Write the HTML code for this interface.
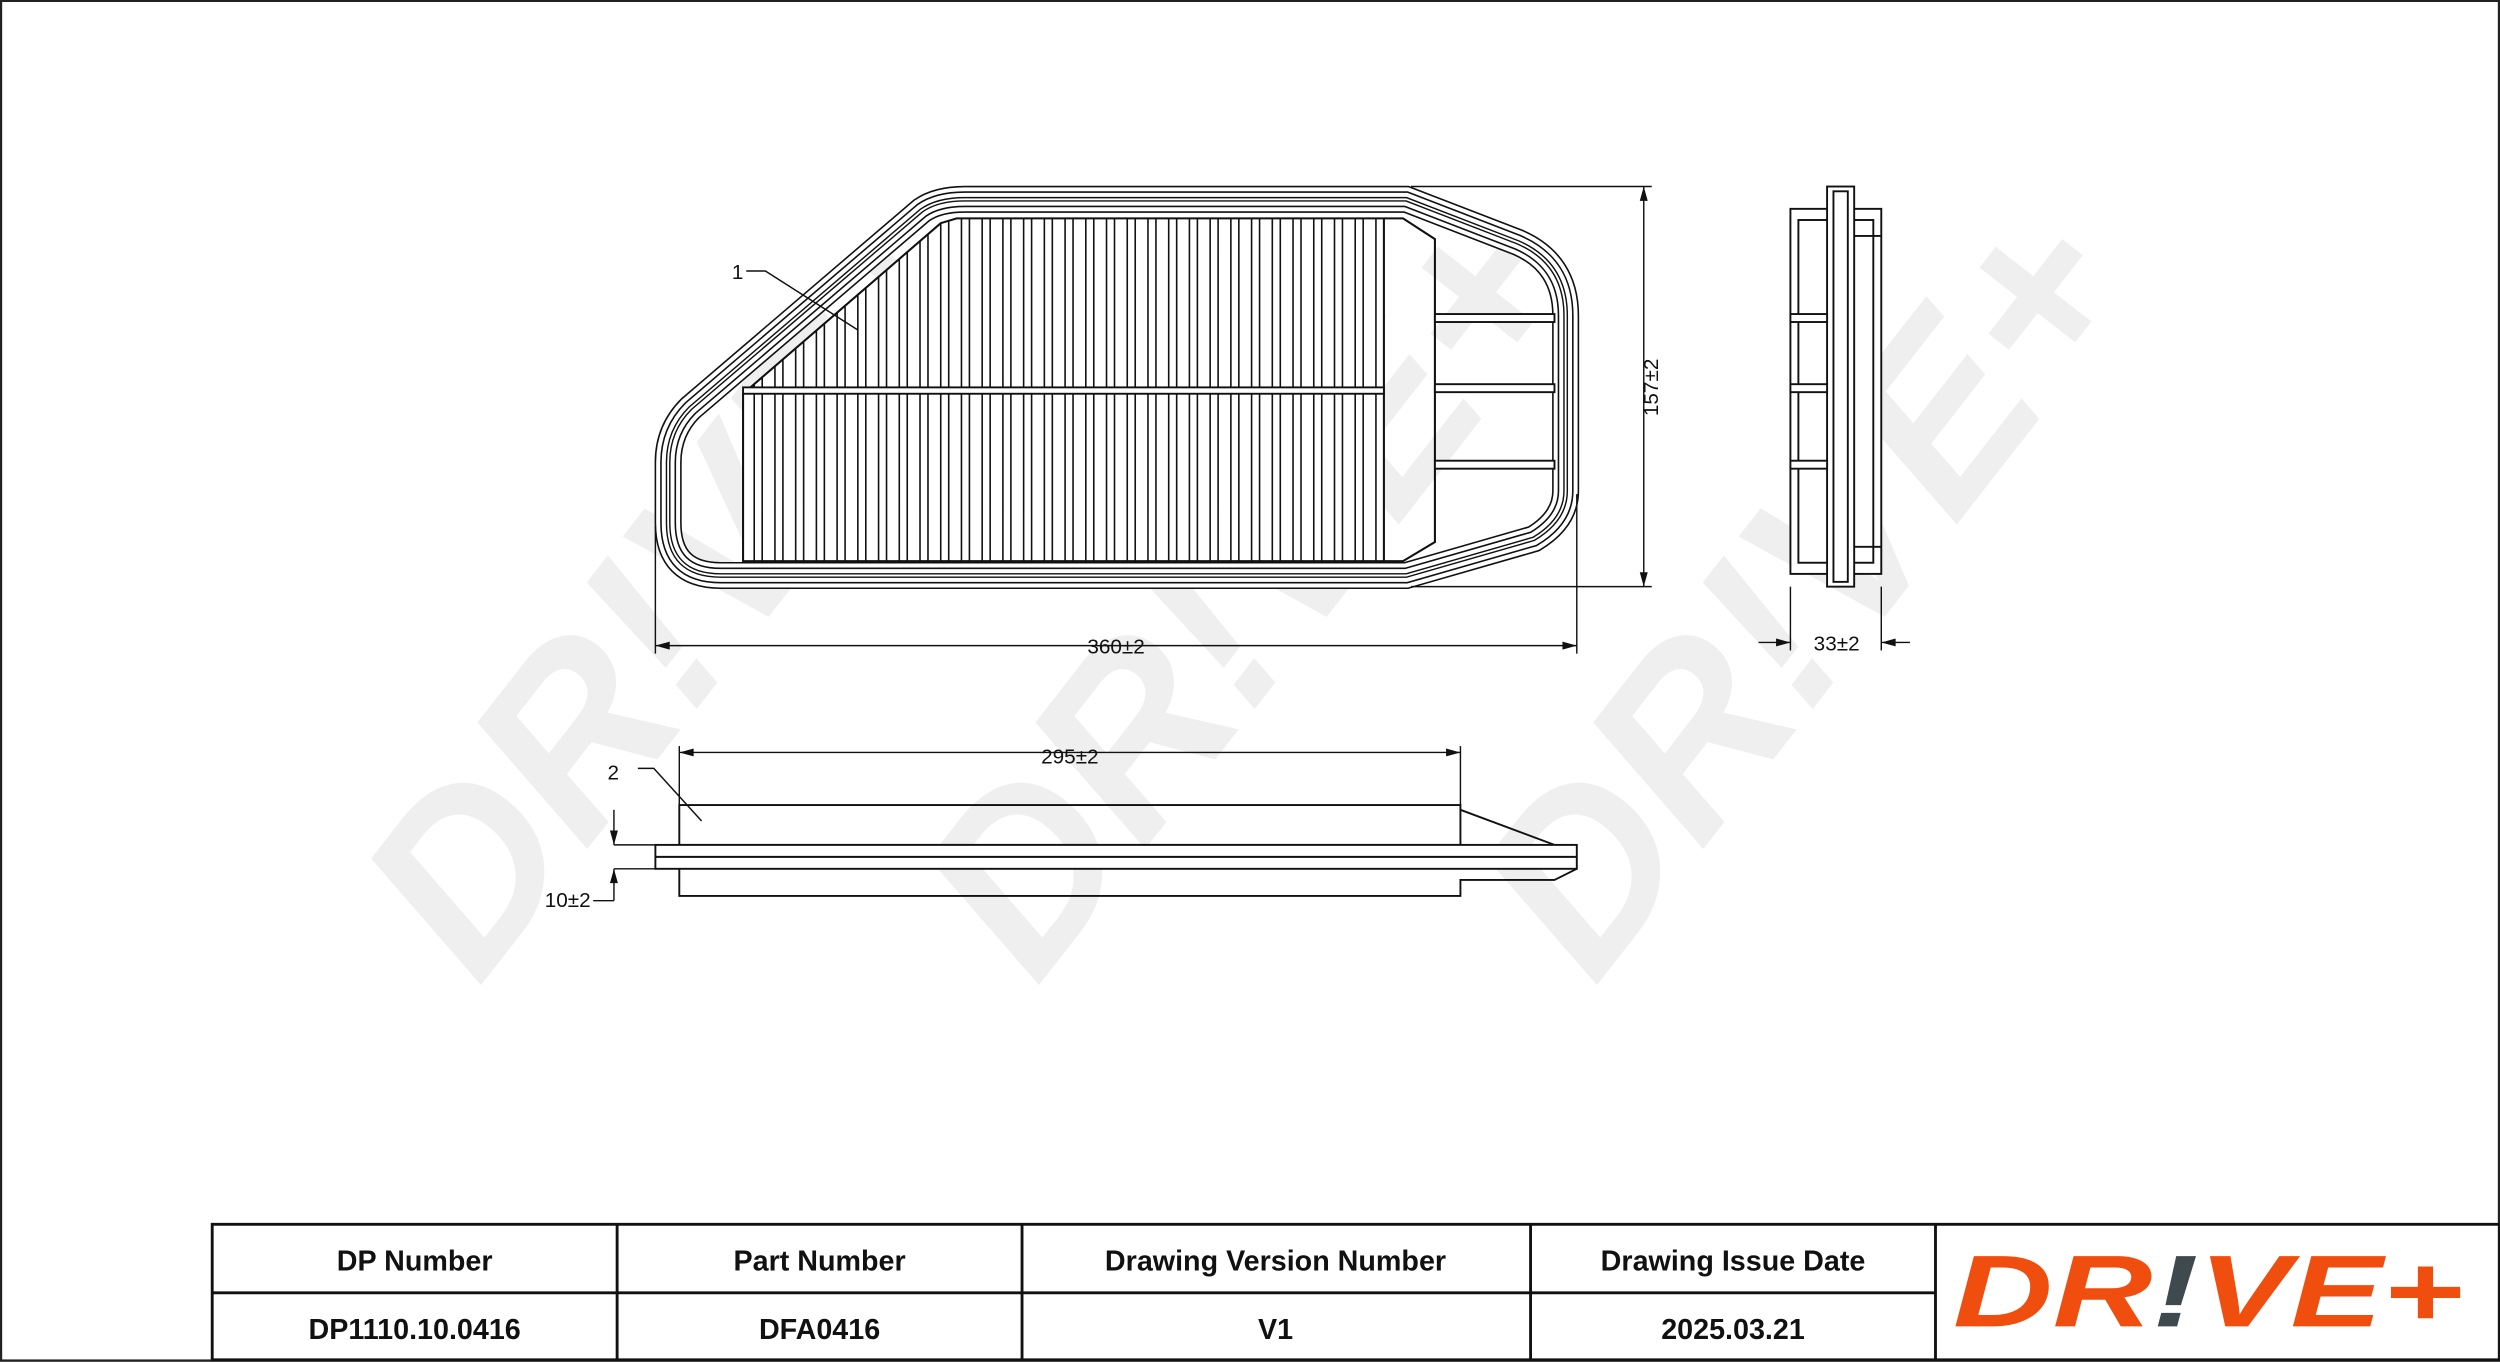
<!DOCTYPE html>
<html><head><meta charset="utf-8"><style>
html,body{margin:0;padding:0;background:#fff;}
svg{display:block;}
</style></head><body>
<svg width="2500" height="1363" viewBox="0 0 1568 855" xmlns="http://www.w3.org/2000/svg" font-family="Liberation Sans, sans-serif">
<defs>
<path id="rp" d="M605,125 L882,125 L952,152 Q982,165 982,198 L982,308 Q982,326 962,338 L882,361 L452,361 Q419,361 419,328 L419,290 Q419,270 433,256 L578,132 Q588,125 605,125 Z"/>
<clipPath id="pc"><path d="M600,137 L868,137 L868,352 L466,352 L466,247 L590,140 Z"/></clipPath>
</defs>
<rect x="0.5" y="0.5" width="1567" height="853" fill="#fff" stroke="#222" stroke-width="1.5"/>
<!-- watermark -->
<g fill="#efefef" font-weight="bold" font-style="italic" font-size="150">
<text transform="translate(300,620) rotate(-52)">DR!VE+</text>
<text transform="translate(650,620) rotate(-52)">DR!VE+</text>
<text transform="translate(1000,620) rotate(-52)">DR!VE+</text>
</g>
<g fill="none">
<use href="#rp" stroke="#111" stroke-width="17"/>
<use href="#rp" stroke="#fff" stroke-width="15"/>
<use href="#rp" stroke="#111" stroke-width="10"/>
<use href="#rp" stroke="#fff" stroke-width="8"/>
<use href="#rp" stroke="#111" stroke-width="3"/>
<use href="#rp" stroke="#fff" stroke-width="1.2"/>
</g>
<g fill="none" stroke="#111">
<path d="M600,137 L868,137 L868,352 L466,352 L466,247 L590,140 Z" fill="#fff" stroke-width="1.3"/>
<path d="M868,137 L880,137 L900,150 L900,340 L880,352 L868,352" stroke-width="1.3"/>
</g>
<g stroke="#111" stroke-width="1" clip-path="url(#pc)">
<path d="M473,137V352M478,137V352M486,137V352M491,137V352M499,137V352M504,137V352M512,137V352M517,137V352M525,137V352M530,137V352M538,137V352M543,137V352M551,137V352M556,137V352M564,137V352M569,137V352M577,137V352M582,137V352M590,137V352M595,137V352M603,137V352M608,137V352M616,137V352M621,137V352M629,137V352M634,137V352M642,137V352M647,137V352M655,137V352M660,137V352M668,137V352M673,137V352M681,137V352M686,137V352M694,137V352M699,137V352M707,137V352M712,137V352M720,137V352M725,137V352M733,137V352M738,137V352M746,137V352M751,137V352M759,137V352M764,137V352M772,137V352M777,137V352M785,137V352M790,137V352M798,137V352M803,137V352M811,137V352M816,137V352M824,137V352M829,137V352M837,137V352M842,137V352M850,137V352M855,137V352M863,137V352"/>
</g>
<g stroke="#111" stroke-width="1.2" fill="#fff">
<rect x="466" y="243" width="402" height="4"/>
<rect x="900" y="197" width="75" height="5"/>
<rect x="900" y="241" width="75" height="5"/>
<rect x="900" y="289" width="75" height="5"/>
</g>
<g stroke="#111" stroke-width="0.9" fill="none">
<path d="M468,170 L480,170 L538,207"/>
<path d="M400,482 L410,482 L440,515"/>
</g>
<text x="459" y="175" font-size="13" fill="#111">1</text>
<text x="381" y="489" font-size="13" fill="#111">2</text>
<g stroke="#111" stroke-width="0.9" fill="none">
<line x1="885" y1="117" x2="1036" y2="117"/>
<line x1="885" y1="368" x2="1036" y2="368"/>
<line x1="1031" y1="117" x2="1031" y2="368"/>
<line x1="411" y1="330" x2="411" y2="410"/>
<line x1="989" y1="310" x2="989" y2="410"/>
<line x1="411" y1="405" x2="989" y2="405"/>
<line x1="1123" y1="368" x2="1123" y2="408"/>
<line x1="1180" y1="368" x2="1180" y2="408"/>
<line x1="1103" y1="403" x2="1123" y2="403"/>
<line x1="1180" y1="403" x2="1198" y2="403"/>
<line x1="426" y1="472" x2="916" y2="472"/>
<line x1="426" y1="468" x2="426" y2="505"/>
<line x1="916" y1="468" x2="916" y2="505"/>
<line x1="385" y1="508" x2="385" y2="530"/>
<line x1="385" y1="545" x2="385" y2="565"/>
<line x1="385" y1="530" x2="411" y2="530"/>
<line x1="385" y1="545" x2="411" y2="545"/>
<line x1="372" y1="565" x2="385" y2="565"/>
</g>
<g fill="#111">
<path d="M1031,117 l-2.5,9 h5z M1031,368 l-2.5,-9 h5z"/>
<path d="M411,405 l9,-2.5 v5z M989,405 l-9,-2.5 v5z"/>
<path d="M1123,403 l-9,-2.5 v5z M1180,403 l9,-2.5 v5z"/>
<path d="M426,472 l9,-2.5 v5z M916,472 l-9,-2.5 v5z"/>
<path d="M385,530 l-2.5,-9 h5z M385,545 l-2.5,9 h5z"/>
</g>
<g font-size="13" fill="#111" text-anchor="middle">
<text x="700" y="410">360±2</text>
<text x="1152" y="408">33±2</text>
<text x="671" y="479">295±2</text>
<text x="356" y="569">10±2</text>
<text transform="translate(1040,243) rotate(-90)">157±2</text>
</g>
<g stroke="#111" stroke-width="1.2" fill="#fff">
<rect x="1123" y="131" width="57" height="229"/>
<rect x="1128" y="138" width="47" height="215"/>
<rect x="1146" y="117" width="17" height="251"/>
<rect x="1150" y="120" width="9" height="245"/>
<rect x="1123" y="197" width="23" height="5"/>
<rect x="1123" y="241" width="23" height="5"/>
<rect x="1123" y="289" width="23" height="5"/>
<line x1="1163" y1="148" x2="1180" y2="148"/>
<line x1="1163" y1="343" x2="1180" y2="343"/>
</g>
<g stroke="#111" stroke-width="1.2" fill="none">
<rect x="426" y="505" width="490" height="25"/>
<path d="M916,508 L975,530"/>
<rect x="411" y="530" width="578" height="15" fill="#fff"/>
<line x1="411" y1="537.5" x2="989" y2="537.5"/>
<path d="M426,545 L426,562 L916,562 L916,552 L975,552 L989,545"/>
</g>
<g stroke="#111" stroke-width="1.8" fill="none">
<rect x="133" y="768" width="1435" height="85"/>
<line x1="133" y1="811" x2="1214" y2="811"/>
<line x1="387" y1="768" x2="387" y2="853"/>
<line x1="641" y1="768" x2="641" y2="853"/>
<line x1="960" y1="768" x2="960" y2="853"/>
<line x1="1214" y1="768" x2="1214" y2="853"/>
</g>
<g font-size="18" font-weight="bold" fill="#111" text-anchor="middle">
<text x="260" y="797">DP Number</text>
<text x="514" y="797">Part Number</text>
<text x="800" y="797">Drawing Version Number</text>
<text x="1087" y="797">Drawing Issue Date</text>
<text x="260" y="840">DP1110.10.0416</text>
<text x="514" y="840">DFA0416</text>
<text x="800" y="840">V1</text>
<text x="1087" y="840">2025.03.21</text>
</g>
<text x="1225" y="832" font-size="64" font-weight="bold" font-style="italic" fill="#f04e0f" textLength="320" lengthAdjust="spacingAndGlyphs">DR<tspan fill="#3f4a4f">!</tspan>VE+</text>
</svg>
</body></html>
